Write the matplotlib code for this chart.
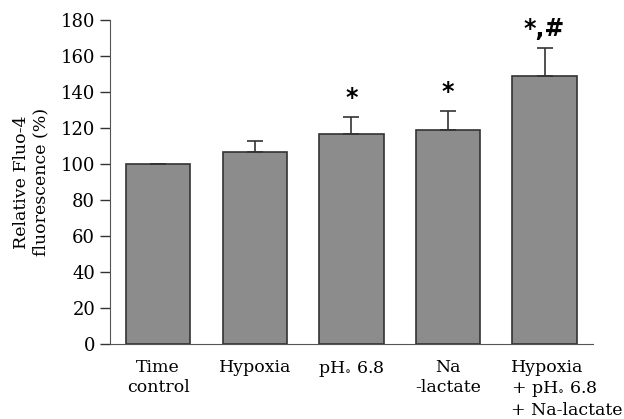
import matplotlib
matplotlib.use('Agg')
import matplotlib.pyplot as plt
import matplotlib.transforms as mtransforms

plt.rcParams['font.family'] = 'DejaVu Serif'
plt.rcParams['mathtext.default'] = 'regular'

# values
groups = ['Time\ncontrol', 'Hypoxia', 'pH$_{\\circ}$ 6.8', 'Na\n-lactate',
          'Hypoxia\n+ pH$_{\\circ}$ 6.8\n+ Na-lactate']
means = [100, 106.7, 116.9, 118.9, 148.9]
errors = [0, 5.9, 9.4, 10.7, 15.4]
marks = ['', '', '*', '*', '*,#']

fig = plt.figure(figsize=(6.24, 4.19), dpi=100)
ax = fig.add_axes([0.176, 0.179, 0.774, 0.773])

x = list(range(len(groups)))
ax.bar(x, means, width=0.667, color='#8c8c8c', edgecolor='#333333', linewidth=1.2,
       yerr=[[0] * len(errors), errors], capsize=6,
       error_kw=dict(ecolor='#333333', elinewidth=1.2, capthick=1.2))

for xi, m, e, s in zip(x, means, errors, marks):
    if s:
        ax.annotate(s, (xi, m + e), xytext=(0, 5), textcoords='offset points',
                    ha='center', va='bottom', fontsize=17, fontweight='bold',
                    family='DejaVu Sans')

ax.set_xlim(-0.5, 4.5)
ax.set_ylim(0, 180)
ax.set_yticks(range(0, 181, 20))
ax.set_xticks(x)
ax.set_xticklabels(groups)
ax.tick_params(axis='x', length=0, pad=11, labelsize=12.5)
ax.tick_params(axis='y', length=7, width=1, labelsize=13, color='#333333')
labels = ax.get_xticklabels()
for lbl in labels[:-1]:
    lbl.set_multialignment('center')
# last label is left-aligned, starting a bit left of its bar centre
last = labels[-1]
last.set_multialignment('left')
last.set_horizontalalignment('left')
last.set_transform(last.get_transform() +
                   mtransforms.ScaledTranslation(-34 / 100, 0, fig.dpi_scale_trans))
ax.spines['top'].set_visible(False)
ax.spines['right'].set_visible(False)
ax.spines['left'].set_color('#555555')
ax.spines['bottom'].set_color('#555555')
ax.set_ylabel('Relative Fluo-4\nfluorescence (%)', fontsize=12.5, labelpad=8)

fig.savefig('out.png', dpi=100)
